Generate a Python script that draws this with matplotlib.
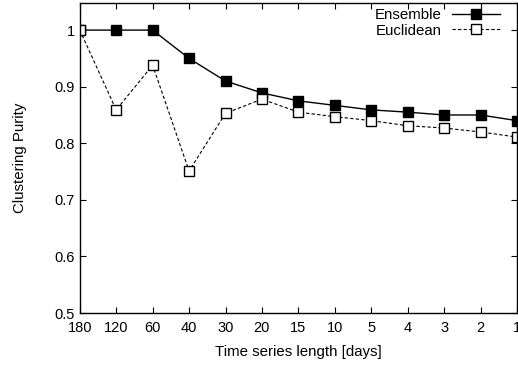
import numpy as np
import matplotlib
matplotlib.use("Agg")
import matplotlib.pyplot as plt

# datos
lengths = ["180", "120", "60", "40", "30", "20", "15", "10", "5", "4", "3", "2", "1"]
ensemble = [1.0, 1.0, 1.0, 0.95, 0.91, 0.889, 0.875, 0.867, 0.859, 0.855, 0.85, 0.85, 0.84]
euclidean = [1.0, 0.859, 0.938, 0.751, 0.853, 0.878, 0.855, 0.847, 0.84, 0.831, 0.827, 0.82, 0.811]
yticks = [0.5, 0.6, 0.7, 0.8, 0.9, 1.0]
ytick_labels = ["0.5", "0.6", "0.7", "0.8", "0.9", "1"]

plt.rcParams["font.family"] = ["Liberation Sans", "DejaVu Sans"]
plt.rcParams["font.size"] = 10.5

x = np.arange(len(lengths))

fig = plt.figure(figsize=(5.18, 3.67), dpi=100)
ax = fig.add_axes([0.154, 0.147, 0.844, 0.845])

ax.plot(x, ensemble, color="black", linestyle="-", linewidth=1.0,
        marker="s", markersize=7.5, markerfacecolor="black", label="Ensemble")
ax.plot(x, euclidean, color="black", linestyle=(0, (3, 2)), linewidth=0.8,
        marker="s", markersize=7.5, markerfacecolor="white",
        markeredgewidth=1.0, label="Euclidean")

ax.set_xlim(0, len(lengths) - 1)
ax.set_ylim(0.5, 1.048)
ax.set_xticks(x)
ax.set_xticklabels(lengths)
ax.set_yticks(yticks)
ax.set_yticklabels(ytick_labels)
ax.tick_params(direction="in", top=True, right=True, length=4, width=0.8)
ax.tick_params(axis="x", pad=6)
for s in ax.spines.values():
    s.set_linewidth(1.0)

ax.set_xlabel("Time series length [days]", labelpad=7, fontsize=10.8)
ax.set_ylabel("Clustering Purity", labelpad=20, fontsize=10.8)

leg = ax.legend(loc="upper right", bbox_to_anchor=(0.961, 0.984),
                frameon=False, markerfirst=False, borderpad=0,
                handlelength=3.2, borderaxespad=0, labelspacing=0.12,
                handletextpad=0.7, fontsize=10.8)

fig.savefig("out.png", dpi=100)
